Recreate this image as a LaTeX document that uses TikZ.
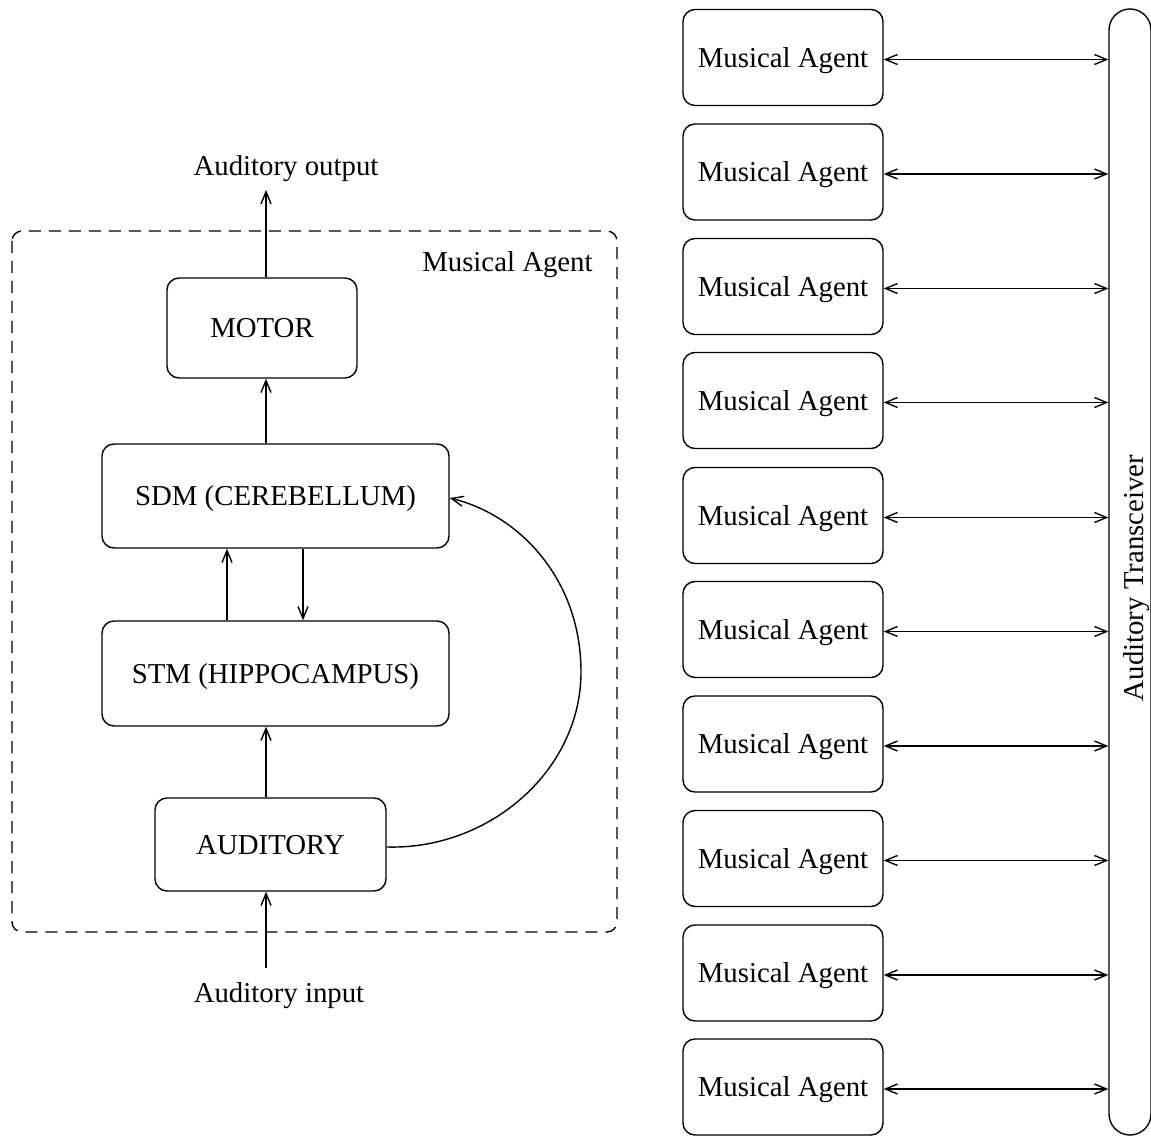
\documentclass[tikz,border=0pt]{standalone}
\usepackage{fontspec}
\setmainfont{Liberation Serif}
\usetikzlibrary{arrows.meta}
\begin{document}
\begin{tikzpicture}[x=0.5pt,y=-0.5pt,
  font=\fontsize{14.4}{17}\selectfont,
  every node/.style={text depth=0pt},
  line width=0.7pt,
  tip/.style={-{Straight Barb[length=6pt,width=5pt]}},
  both/.style={{Straight Barb[length=6pt,width=5pt]}-{Straight Barb[length=6pt,width=5pt]}},
  box/.style={draw, rounded corners=6pt, inner sep=0pt},
  agent/.style={box, minimum width=100pt, minimum height=48pt}]
\useasboundingbox (0,0) rectangle (1151,1138);

% dashed frame
\draw[dashed, dash pattern=on 6pt off 4pt, rounded corners=5pt] (12,231) rectangle (617,932);
\node[anchor=east] (lbl) at (600,262) {Musical Agent};

% left nodes
\node[box, minimum width=95pt, minimum height=50pt] (motor) at (262,328) {MOTOR};
\node[box, minimum width=173.5pt, minimum height=52pt] (sdm) at (275.5,496) {SDM (CEREBELLUM)};
\node[box, minimum width=173.5pt, minimum height=52.5pt] (stm) at (275.5,673.5) {STM (HIPPOCAMPUS)};
\node[box, minimum width=115.5pt, minimum height=46.5pt] (aud) at (270.5,844.5) {AUDITORY};
\node (out) at (286,166) {Auditory output};
\node (in) at (279,993) {Auditory input};

\coordinate (outend) at (266,190);
\coordinate (instart) at (266,968);

\draw[tip] (motor.north -| outend) -- (outend);
\draw[tip] (sdm.north -| outend) -- (motor.south -| outend);
\draw[tip] (stm.north -| 227,0) -- (sdm.south -| 227,0);
\draw[tip] (sdm.south -| 303,0) -- (stm.north -| 303,0);
\draw[tip] (aud.north -| outend) -- (stm.south -| outend);
\draw[tip] (instart) -- (aud.south -| instart);

\draw[tip] (aud.east |- 0,847) .. controls (490,850) and (581,770) .. (581,672)
  .. controls (581,580) and (520,515) .. (sdm.east |- 0,498);

% transceiver
\node[draw, rounded corners=10.5pt, minimum width=21pt, minimum height=563pt, inner sep=0pt] (T) at (1130,572) {};
\node[rotate=90] (Tl) at (1133,578) {Auditory Transceiver};

% agents
\foreach \i/\y in {1/57.5,2/172,3/286.5,4/400.5,5/515.5,6/629.5,7/744,8/858.5,9/973,10/1087}{
  \node[agent] (a\i) at (783,\y) {Musical Agent};
  \draw[both] ([yshift=-1pt]a\i.east) -- ([yshift=-1pt]a\i.east -| T.west);
}
\end{tikzpicture}
\end{document}
